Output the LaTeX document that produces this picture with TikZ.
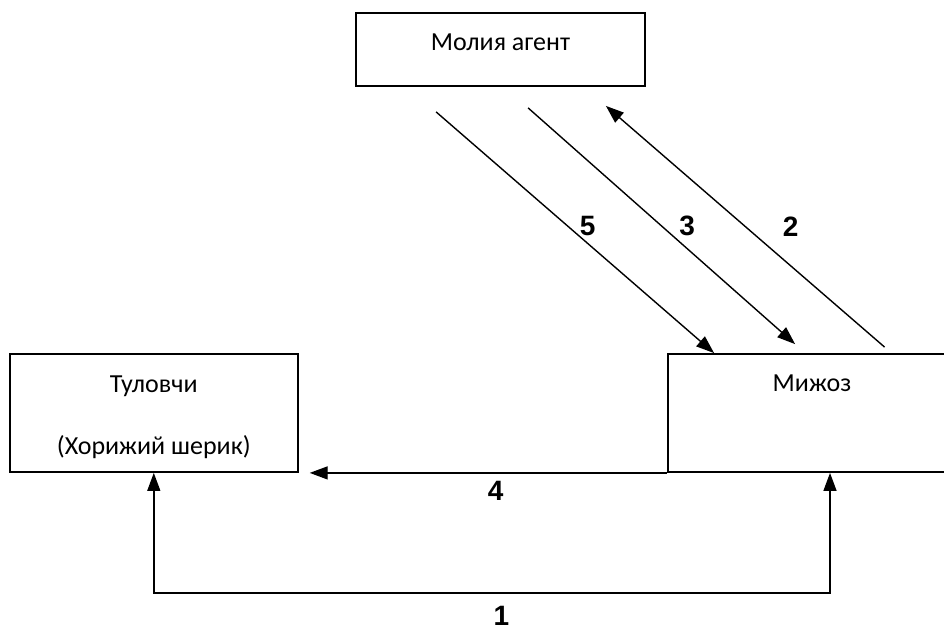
\documentclass[tikz,border=0pt]{standalone}
\usepackage{fontspec}
\setmainfont{Carlito}
\newfontfamily\numfont{Liberation Sans}
\usetikzlibrary{arrows.meta,positioning}

\begin{document}
\begin{tikzpicture}[x=1pt,y=-1pt,
    box/.style={draw,line width=1.8pt,inner sep=0pt,align=center,font=\fontsize{26}{62}\selectfont},
    flow/.style={line width=1.4pt,-{Triangle[length=18pt,width=13pt]}},
    twoway/.style={line width=1.4pt,{Triangle[length=18pt,width=13pt]}-{Triangle[length=18pt,width=13pt]}},
    num/.style={inner sep=0pt,font=\numfont\bfseries\fontsize{28}{30}\selectfont}]
      \useasboundingbox (0,0) rectangle (944,630);
      \node[box,minimum width=289pt,minimum height=73pt,text height=17pt,text depth=16pt] (agent) at (500.5,49.5) {Молия агент};
      \node[box,minimum width=288pt,minimum height=118pt] (seller) at (153.8,413) {\rule{0pt}{25pt}Туловчи\\(Хорижий шерик)};
      \node[box,minimum width=288pt,minimum height=118pt,text height=17pt,text depth=61pt] (client) at (812,413) {Мижоз};
      \draw[flow] ([xshift=81pt,yshift=-25pt]agent.south west) -- node[num,pos=0.475,right=11pt]{5} ([xshift=47pt]client.north west);
      \draw[flow] ([xshift=173pt,yshift=-21pt]agent.south west) -- node[num,pos=0.5,right=17pt]{3} ([xshift=128pt,yshift=9pt]client.north west);
      \draw[flow] ([xshift=217.5pt,yshift=6pt]client.north west) -- node[num,pos=0.5,right=37pt]{2} ([xshift=-40pt,yshift=-19pt]agent.south east);
      \draw[flow] (client.south west) -- node[num,pos=0.48,below=8pt]{4} ([xshift=11pt]seller.south east);
      \coordinate (loop) at ([xshift=18pt,yshift=-120pt]client.south);
      \draw[twoway] (seller.south) |- node[num,pos=0.757,below=13pt]{1} (loop) -- ([xshift=18pt]client.south);
\end{tikzpicture}
\end{document}
